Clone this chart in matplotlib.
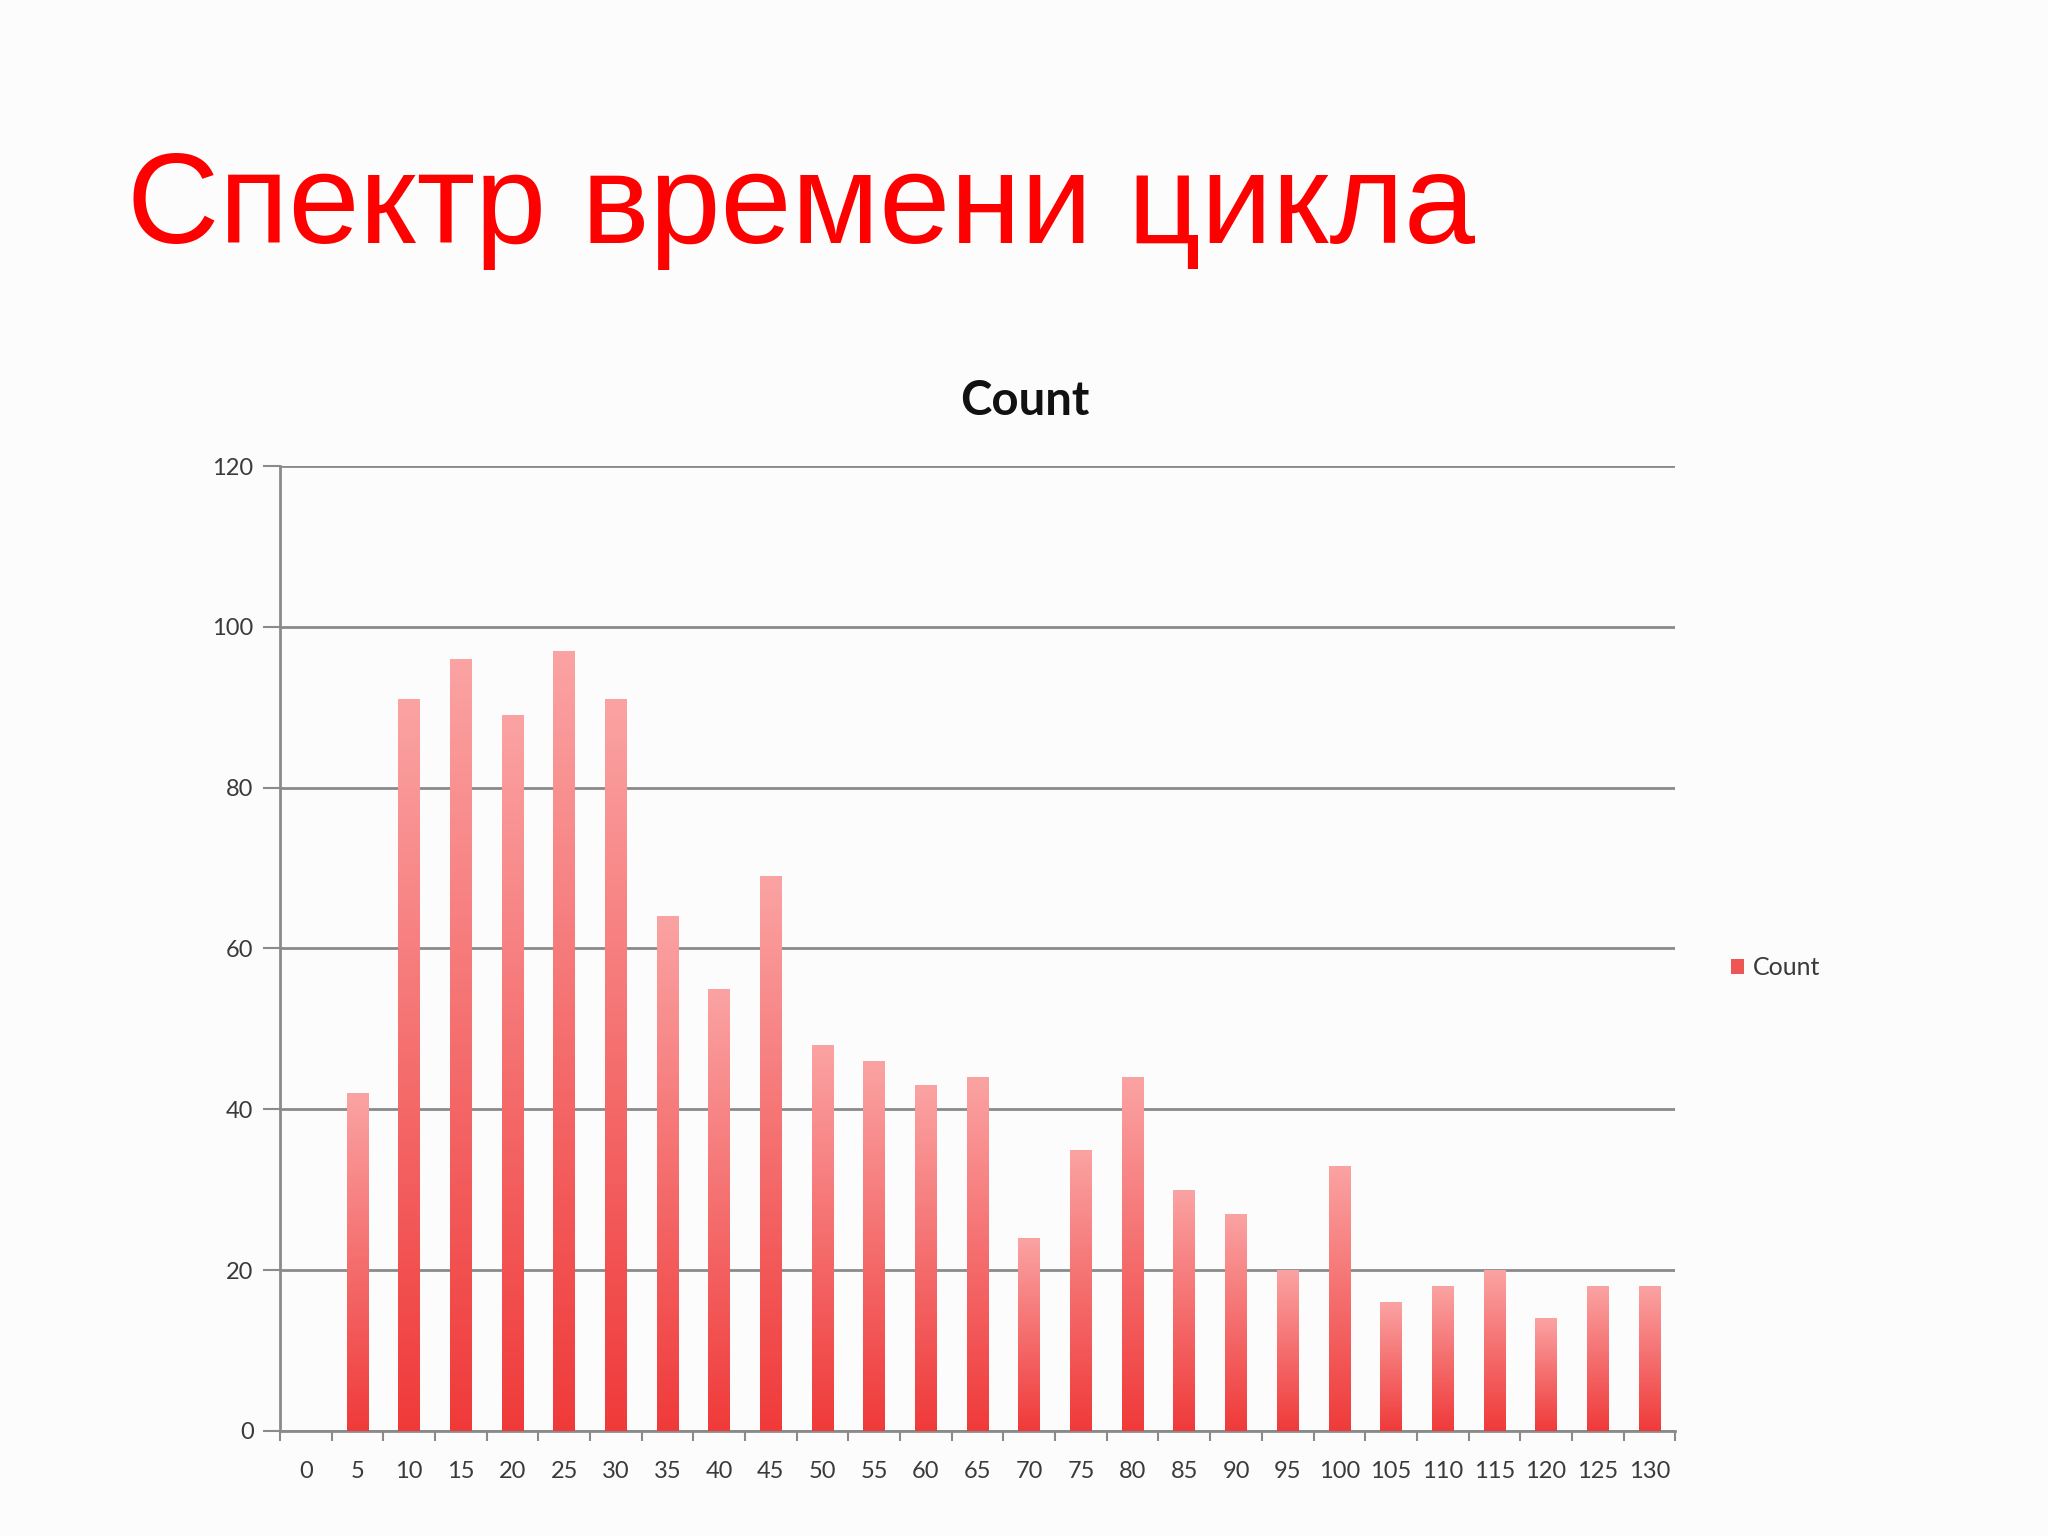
import numpy as np
import matplotlib
matplotlib.use("Agg")
import matplotlib.pyplot as plt
from matplotlib.colors import LinearSegmentedColormap
from matplotlib.patches import Patch

categories = ["0", "5", "10", "15", "20", "25", "30", "35", "40", "45", "50", "55", "60", "65",
              "70", "75", "80", "85", "90", "95", "100", "105", "110", "115", "120", "125", "130"]
counts = [0, 42, 91, 96, 89, 97, 91, 64, 55, 69, 48, 46, 43, 44,
          24, 35, 44, 30, 27, 20, 33, 16, 18, 20, 14, 18, 18]
y_ticks = [0, 20, 40, 60, 80, 100, 120]

slide_title = "Спектр времени цикла"
chart_title = "Count"
series_name = "Count"

fig = plt.figure(figsize=(20.48, 15.36), dpi=100, facecolor="#fdfcfc")

fig.text(0.062, 0.842, slide_title, color="#ff0000", fontsize=92,
         family=["Liberation Sans", "DejaVu Sans"], ha="left", va="baseline")

ax = fig.add_axes([0.1367, 0.0684, 0.6813, 0.6282])
ax.set_facecolor("#fdfcfc")

x = np.arange(len(categories))
bars = ax.bar(x, counts, width=0.42, color="#f36a6a", zorder=3, linewidth=0)

cmap = LinearSegmentedColormap.from_list("g", ["#f03a3a", "#f56e6e", "#fba3a3"])
grad = np.linspace(0, 1, 256).reshape(-1, 1)
for b in bars:
    h = b.get_height()
    if h <= 0:
        continue
    x0 = b.get_x()
    w = b.get_width()
    im = ax.imshow(grad, cmap=cmap, origin="lower", aspect="auto",
                   extent=[x0, x0 + w, 0, h], zorder=4)
    im.set_clip_path(b)

ax.set_xlim(-0.5, len(categories) - 0.5)
ax.set_ylim(0, 120)
ax.set_yticks(y_ticks)
ax.set_yticklabels([str(v) for v in y_ticks])
ax.yaxis.grid(True, color="#8a8a8a", linewidth=2.0, zorder=1)
ax.set_axisbelow(True)

ax.set_xticks(x)
ax.set_xticklabels(categories)
ax.set_xticks(np.arange(-0.5, len(categories)), minor=True)
ax.tick_params(axis="x", which="major", length=0, pad=22, labelsize=17, labelcolor="#3a3a3a")
ax.tick_params(axis="x", which="minor", length=7, width=1.5, color="#8a8a8a", direction="out")
ax.tick_params(axis="y", length=12, width=1.5, color="#8a8a8a", pad=7, labelsize=17, labelcolor="#3a3a3a")
for lbl in ax.get_xticklabels() + ax.get_yticklabels():
    lbl.set_family(["Lato", "DejaVu Sans"])

for s in ["top", "right"]:
    ax.spines[s].set_visible(False)
ax.spines["left"].set_color("#8a8a8a")
ax.spines["left"].set_linewidth(2.0)
ax.spines["bottom"].set_color("#8a8a8a")
ax.spines["bottom"].set_linewidth(2.0)

fig.text(0.5005, 0.73, chart_title, fontsize=34, fontweight="bold", color="#111111",
         family=["Lato", "DejaVu Sans"], ha="center", va="baseline")

handle = Patch(facecolor="#ee5555", edgecolor="none")
leg = fig.legend([handle], [series_name], loc="center left", bbox_to_anchor=(0.834, 0.37),
                 frameon=False, handlelength=0.55, handleheight=0.55, handletextpad=0.35,
                 prop={"family": ["Lato", "DejaVu Sans"], "size": 18})
for t in leg.get_texts():
    t.set_color("#3a3a3a")

fig.savefig("out.png", dpi=100, facecolor=fig.get_facecolor())
